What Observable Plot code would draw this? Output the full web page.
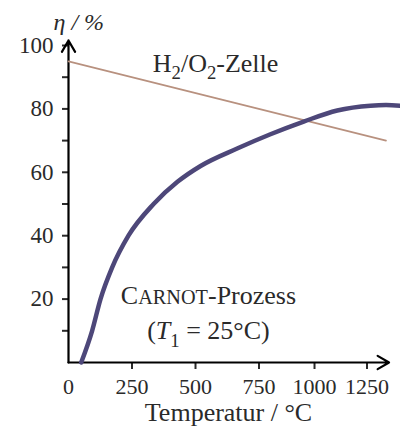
<!DOCTYPE html>
<html>
<head>
<meta charset="utf-8">
<script src="https://cdn.jsdelivr.net/npm/d3@7"></script>
<script src="https://cdn.jsdelivr.net/npm/@observablehq/plot@0.6"></script>
<style>
  html, body { margin: 0; padding: 0; background: #fff; }
  svg { display: block; }
</style>
</head>
<body>
<div id="chart"></div>
<script>
// Carnot efficiency curve (T in °C, eta in %)
const carnotT   = [50, 93, 126, 172, 236, 335, 429, 520, 664, 795, 926, 1058, 1189, 1250, 1307];
const carnotEta = [0, 10, 20, 30, 40, 50, 57, 62, 67.5, 72, 76, 79.5, 81, 81.2, 81];
// H2/O2 fuel cell efficiency
const cellT   = [0, 1250];
const cellEta = [95, 70];
// ticks
const xTicks = [250, 500, 750];
const xTick1000 = [1000];
const xTick1250 = [1250];
const yTicks = [10, 20, 30, 40, 50, 60, 70, 80, 90, 100];
const yLabelled = [20, 40, 60, 80, 100];

const carnot = carnotT.map((t, i) => ({t, eta: carnotEta[i]}));
const cell = cellT.map((t, i) => ({t, eta: cellEta[i]}));

const FONT = "'Liberation Serif', 'Times New Roman', serif";
const INK = "#2a2a2a";
const TICKFS = 22;
const ANNFS = 26;
const xAxisOpts = {tickFormat: d => String(d), tickSize: 7, tickPadding: 9, strokeWidth: 2, label: null, fontSize: TICKFS};

const chart = Plot.plot({
  width: 400,
  height: 430,
  marginLeft: 68,
  marginRight: 0,
  marginTop: 45,
  marginBottom: 68,
  style: {fontFamily: FONT, fontSize: TICKFS + "px", color: INK, background: "#fff"},
  x: {domain: [0, 1307], label: null},
  y: {domain: [0, 100], label: null},
  marks: [
    Plot.axisY({ticks: yTicks, tickFormat: d => yLabelled.includes(d) ? String(d) : "",
      tickSize: 6, tickPadding: 9, strokeWidth: 2, label: null, fontSize: 23}),
    Plot.axisX({ticks: xTicks, ...xAxisOpts}),
    Plot.axisX({ticks: xTick1000, ...xAxisOpts, dx: -8}),
    Plot.axisX({ticks: xTick1250, ...xAxisOpts, dx: -19}),
    Plot.axisX({ticks: [0], ...xAxisOpts, tickSize: 0, tickPadding: 16}),
    Plot.arrow([0], {x1: 0, y1: 0, x2: 0, y2: 101.6, stroke: "#000", strokeWidth: 2.2, headLength: 9}),
    Plot.arrow([0], {x1: 0, y1: 0, x2: 1262, y2: 0, stroke: "#000", strokeWidth: 2.2, headLength: 9}),
    Plot.line(cell, {x: "t", y: "eta", stroke: "#b8917f", strokeWidth: 1.6}),
    Plot.line(carnot, {x: "t", y: "eta", stroke: "#4d4779", strokeWidth: 4.5, curve: "monotone-x"}),
    Plot.text(["H_{2}/O_{2}-Zelle"], {x: 579, y: 94.4, fill: INK, fontSize: ANNFS}),
    Plot.text(["C~{ARNOT}-Prozess"], {x: 551, y: 21.1, fill: INK, fontSize: ANNFS}),
    Plot.text(["(*{T}_{1} = 25°C)"], {x: 551, y: 10.1, fill: INK, fontSize: ANNFS}),
    Plot.text(["η / %"], {frameAnchor: "top-left", dx: -15, dy: -33, fill: INK, fontSize: 24, fontStyle: "italic"}),
    Plot.text(["Temperatur / °C"], {frameAnchor: "bottom", dx: -6, dy: 58, fill: INK, fontSize: ANNFS})
  ]
});

// rich-text post-processing: _{..} subscript, ~{..} small caps, *{..} italic
d3.select(chart).selectAll("text").each(function() {
  const el = this;
  if (el.children.length) return;
  const s = el.textContent;
  if (!/[_~*]\{/.test(s)) return;
  const fs = parseFloat(el.getAttribute("font-size")) || parseFloat(el.parentNode.getAttribute("font-size")) || ANNFS;
  el.textContent = "";
  const parts = s.split(/([_~*]\{[^}]*\})/).filter(p => p.length);
  let shifted = false;
  for (const p of parts) {
    const m = p.match(/^([_~*])\{([^}]*)\}$/);
    const ts = document.createElementNS("http://www.w3.org/2000/svg", "tspan");
    if (!m) {
      ts.textContent = p;
      if (shifted) { ts.setAttribute("dy", -0.3 * fs); shifted = false; }
    } else if (m[1] === "_") {
      ts.textContent = m[2];
      ts.setAttribute("font-size", 0.72 * fs);
      ts.setAttribute("dy", 0.3 * fs);
      shifted = true;
    } else if (m[1] === "~") {
      ts.textContent = m[2];
      ts.setAttribute("font-size", 0.78 * fs);
      if (shifted) { ts.setAttribute("dy", -0.3 * fs); shifted = false; }
    } else {
      ts.textContent = m[2];
      ts.setAttribute("font-style", "italic");
      if (shifted) { ts.setAttribute("dy", -0.3 * fs); shifted = false; }
    }
    el.appendChild(ts);
  }
});

document.getElementById("chart").appendChild(chart);
</script>
</body>
</html>
